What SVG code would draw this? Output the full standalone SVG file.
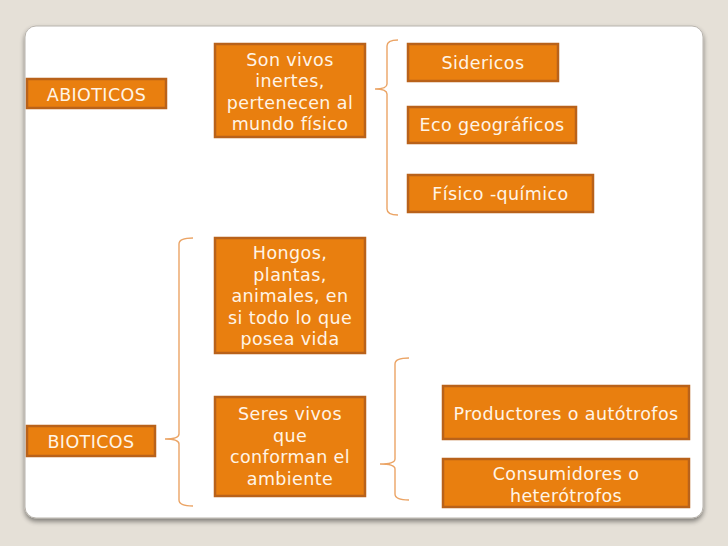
<svg xmlns="http://www.w3.org/2000/svg" width="728" height="546" viewBox="0 0 728 546">
<style>
.box rect{fill:#e97f0f;stroke:#b9621a;stroke-width:2.5}
.box text{fill:#fff4e6;font-family:"DejaVu Sans",Verdana,sans-serif;font-size:17.5px;letter-spacing:0.4px;text-anchor:middle}
.br{fill:none;stroke:#eba465;stroke-width:1.4}
</style>
<defs>
<filter id="sh" x="-5%" y="-5%" width="110%" height="112%">
<feGaussianBlur in="SourceAlpha" stdDeviation="2.5"/>
<feOffset dy="3"/>
<feComponentTransfer><feFuncA type="linear" slope="0.45"/></feComponentTransfer>
<feMerge><feMergeNode/><feMergeNode in="SourceGraphic"/></feMerge>
</filter>
</defs>
<rect width="728" height="546" fill="#e5e0d7"/>
<rect x="25" y="26" width="678" height="492" rx="11" fill="#ffffff" stroke="#b8b4ad" stroke-width="1" filter="url(#sh)"/>
<g id="connectors">
<path class="br" d="M398,40 Q387,40 387,46 L387,84 Q387,89 375,89 Q387,89 387,94 L387,209 Q387,215 398,215"/>
<path class="br" d="M193,238 Q179,238 179,244 L179,434 Q179,439 165,439 Q179,439 179,444 L179,500 Q179,506 193,506"/>
<path class="br" d="M409,358 Q395,358 395,364 L395,459 Q395,464 380,464 Q395,464 395,469 L395,494 Q395,500 409,500"/>
</g>
<g id="abioticos" class="box"><rect x="27" y="79" width="139" height="29"/><text x="96.5" y="101">ABIOTICOS</text></g>
<g id="son-vivos" class="box"><rect x="215" y="44" width="150" height="93"/>
<text x="290" y="65.5">Son vivos</text><text x="290" y="87">inertes,</text><text x="290" y="108.5">pertenecen al</text><text x="290" y="130">mundo físico</text></g>
<g id="sidericos" class="box"><rect x="408" y="44" width="150" height="37"/><text x="483" y="69">Sidericos</text></g>
<g id="eco" class="box"><rect x="408" y="107" width="168" height="36"/><text x="492" y="131">Eco geográficos</text></g>
<g id="fisico" class="box"><rect x="408" y="175" width="185" height="37"/><text x="500.5" y="200">Físico -químico</text></g>
<g id="hongos" class="box"><rect x="215" y="238" width="150" height="115"/>
<text x="290" y="259">Hongos,</text><text x="290" y="280.5">plantas,</text><text x="290" y="302">animales, en</text><text x="290" y="323.5">si todo lo que</text><text x="290" y="345">posea vida</text></g>
<g id="bioticos" class="box"><rect x="27" y="426" width="128" height="30"/><text x="91" y="448">BIOTICOS</text></g>
<g id="seres" class="box"><rect x="215" y="397" width="150" height="99"/>
<text x="290" y="420">Seres vivos</text><text x="290" y="441.5">que</text><text x="290" y="463">conforman el</text><text x="290" y="484.5">ambiente</text></g>
<g id="productores" class="box"><rect x="443" y="386" width="246" height="53"/><text x="566" y="420">Productores o autótrofos</text></g>
<g id="consumidores" class="box"><rect x="443" y="459" width="246" height="48"/>
<text x="566" y="479.5">Consumidores o</text><text x="566" y="501.5">heterótrofos</text></g>
</svg>
